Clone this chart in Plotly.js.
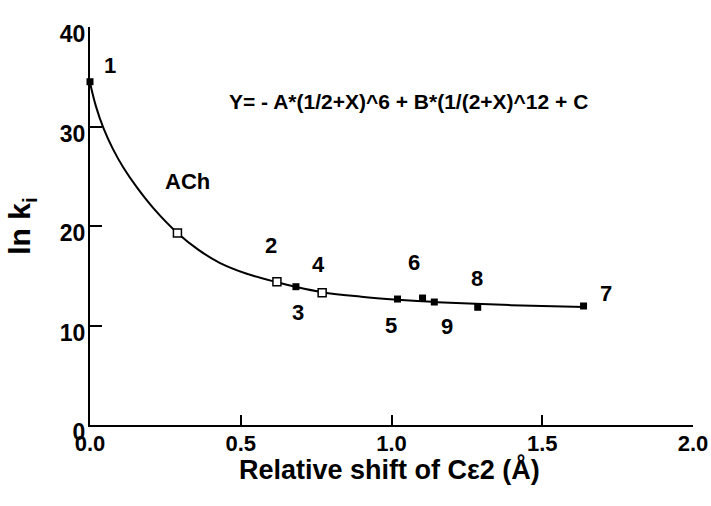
<!DOCTYPE html>
<html>
<head>
<meta charset="utf-8">
<script src="https://cdn.plot.ly/plotly-3.0.1.min.js"></script>
<style>html,body{margin:0;padding:0;background:#fff;}#chart{width:711px;height:506px;}</style>
</head>
<body>
<div id="chart"></div>
<script>
// Data points (x: relative shift of Cε2 in Å, y: ln ki)
const filledLabels = ["1", "3", "5", "6", "9", "8", "7"];
const filledX = [0.0, 0.683, 1.020, 1.103, 1.142, 1.286, 1.637];
const filledY = [34.5, 13.9, 12.66, 12.76, 12.36, 11.83, 11.96];

const openLabels = ["ACh", "2", "4"];
const openX = [0.290, 0.620, 0.770];
const openY = [19.3, 14.4, 13.3];

// Fitted curve
const curveX = [0, 0.02, 0.045, 0.075, 0.11, 0.155, 0.21, 0.29, 0.36, 0.43, 0.52, 0.62, 0.68, 0.77, 0.9, 1.02, 1.15, 1.3, 1.5, 1.64];
const curveY = [34.4, 32.0, 29.8, 27.8, 25.9, 23.9, 21.8, 19.3, 17.6, 16.3, 15.2, 14.35, 13.9, 13.35, 12.9, 12.6, 12.35, 12.15, 11.95, 11.85];

// Label positions (data coordinates)
const labelText = ["1", "ACh", "2", "3", "4", "5", "6", "9", "8", "7"];
const labelX = [0.066, 0.322, 0.599, 0.691, 0.757, 0.997, 1.075, 1.183, 1.282, 1.711];
const labelY = [36.1, 24.5, 18.0, 11.3, 16.15, 10.05, 16.35, 9.88, 14.74, 13.24];

const xTicks = [0, 0.5, 1.0, 1.5, 2.0];
const xTickText = ["0.0", "0.5", "1.0", "1.5", "2.0"];
const yTicks = [0, 10, 20, 30, 40];
const yTickText = ["0", "10", "20", "30", "40"];

const equation = "Y= - A*(1/2+X)^6 + B*(1/(2+X)^12 + C";
const xTitle = "Relative shift of Cε2 (Å)";
const yTitle = "ln k<sub>i</sub>";

const font = "Liberation Sans, Arial, sans-serif";

const traces = [
  {
    x: curveX, y: curveY, type: "scatter", mode: "lines",
    line: {color: "#000", width: 2, shape: "spline", smoothing: 1},
    hoverinfo: "skip", showlegend: false
  },
  {
    x: filledX, y: filledY, text: filledLabels, type: "scatter", mode: "markers",
    marker: {symbol: "square", size: 7, color: "#000", line: {color: "#000", width: 0}},
    showlegend: false, cliponaxis: false
  },
  {
    x: openX, y: openY, text: openLabels, type: "scatter", mode: "markers",
    marker: {symbol: "square", size: 8, color: "#fff", line: {color: "#000", width: 1.5}},
    showlegend: false, cliponaxis: false
  }
];

const annotations = labelText.map((t, i) => ({
  x: labelX[i], y: labelY[i], xref: "x", yref: "y", text: t, showarrow: false,
  font: {family: font, size: 22, color: "#000", weight: "bold"},
  xanchor: "center", yanchor: "middle"
}));
annotations.push({
  x: 1.055, y: 32.56, xref: "x", yref: "y", text: equation, showarrow: false,
  font: {family: font, size: 21, color: "#000", weight: "bold"},
  xanchor: "center", yanchor: "middle"
});
annotations.push({
  x: 0.4975, y: -0.112, xref: "paper", yref: "paper", text: xTitle, showarrow: false,
  font: {family: font, size: 27, color: "#000", weight: "bold"},
  xanchor: "center", yanchor: "middle"
});

const layout = {
  width: 711, height: 506,
  margin: {l: 90, r: 18, t: 27, b: 81},
  paper_bgcolor: "#fff", plot_bgcolor: "#fff",
  showlegend: false,
  font: {family: font, color: "#000"},
  xaxis: {
    range: [0, 2], tickvals: xTicks, ticktext: xTickText,
    ticks: "inside", ticklen: 10, tickwidth: 2, tickcolor: "#000",
    showline: true, linecolor: "#000", linewidth: 2,
    showgrid: false, zeroline: false,
    ticklabelstandoff: -2,
    tickfont: {family: font, size: 22, color: "#000", weight: "bold"}
  },
  yaxis: {
    range: [0, 40], tickvals: yTicks, ticktext: yTickText,
    ticks: "inside", ticklen: 12, tickwidth: 2, tickcolor: "#000",
    showline: true, linecolor: "#000", linewidth: 2,
    showgrid: false, zeroline: false,
    ticklabelshift: 7, ticklabelstandoff: -2,
    tickfont: {family: font, size: 23, color: "#000", weight: "bold"},
    title: {text: yTitle, font: {family: font, size: 30, color: "#000", weight: "bold"}, standoff: 20}
  },
  annotations: annotations
};

Plotly.newPlot("chart", traces, layout, {displayModeBar: false, staticPlot: true});
</script>
</body>
</html>
